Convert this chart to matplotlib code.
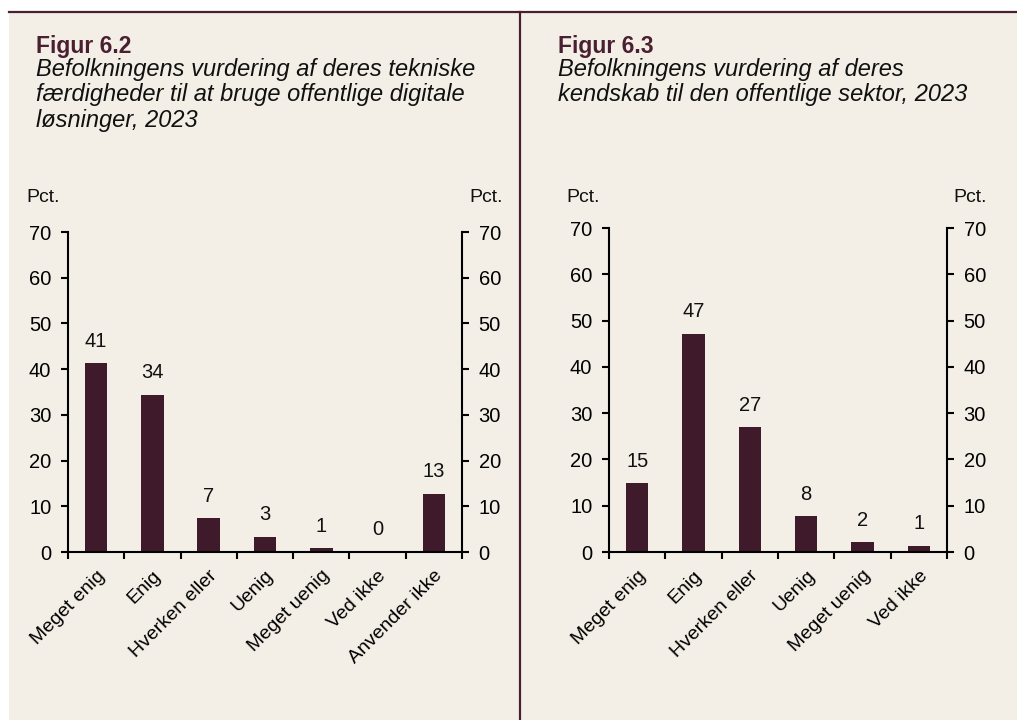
import matplotlib.pyplot as plt
from matplotlib.patches import Rectangle
from matplotlib.lines import Line2D

# Data
kat_62 = ["Meget enig", "Enig", "Hverken eller", "Uenig", "Meget uenig", "Ved ikke", "Anvender ikke"]
val_62 = [41.3, 34.4, 7.4, 3.3, 0.8, 0.1, 12.7]
lab_62 = ["41", "34", "7", "3", "1", "0", "13"]

kat_63 = ["Meget enig", "Enig", "Hverken eller", "Uenig", "Meget uenig", "Ved ikke"]
val_63 = [14.8, 47.2, 26.9, 7.7, 2.1, 1.3]
lab_63 = ["15", "47", "27", "8", "2", "1"]

BAR = "#3E1A2B"
MAROON = "#4A1F32"
BG = "#F3EFE6"

W, H = 1017, 720
fig = plt.figure(figsize=(W / 100, H / 100), dpi=100)
fig.patch.set_facecolor("white")
plt.rcParams["font.family"] = ["Liberation Sans", "DejaVu Sans"]

# Panel background and border lines
fig.patches.append(Rectangle((9 / W, 0), 1 - 9 / W, (H - 12) / H,
                             transform=fig.transFigure, facecolor=BG,
                             edgecolor="none", zorder=-10))
fig.lines.append(Line2D([9 / W, 1], [(H - 12) / H] * 2, transform=fig.transFigure,
                        color=MAROON, linewidth=1.6))
fig.lines.append(Line2D([520 / W] * 2, [0, (H - 12) / H], transform=fig.transFigure,
                        color=MAROON, linewidth=1.6))


def tegn(ax, kat, val, lab):
    n = len(kat)
    x = list(range(n))
    ax.set_facecolor("none")
    ax.bar(x, val, width=0.4, color=BAR, edgecolor="none")
    for xi, v, t in zip(x, val, lab):
        ax.annotate(t, (xi, v), xytext=(0, 9), textcoords="offset points",
                    ha="center", va="bottom", fontsize=14.5, color="#111111")
    ax.set_xlim(-0.5, n - 0.5)
    ax.set_ylim(0, 70)
    ax.set_yticks(range(0, 71, 10))
    ax.set_xticks([i - 0.5 for i in range(n + 1)])
    ax.set_xticklabels([])
    ax.set_xticks(x, minor=True)
    ax.set_xticklabels(kat, minor=True, rotation=45, ha="right",
                       rotation_mode="anchor", fontsize=14)
    ax.tick_params(axis="x", which="minor", length=0, pad=11)
    ax.tick_params(axis="x", which="major", length=5, width=1.5, direction="out")
    ax.tick_params(axis="y", length=5, width=1.5, direction="out",
                   left=True, right=True, labelleft=True, labelright=True,
                   labelsize=14.5, pad=7)
    ax.spines["top"].set_visible(False)
    for s in ["left", "right", "bottom"]:
        ax.spines[s].set_linewidth(1.5)
        ax.spines[s].set_color("black")


ax1 = fig.add_axes([68 / W, (H - 552) / H, 394 / W, 320 / H])
tegn(ax1, kat_62, val_62, lab_62)
ax2 = fig.add_axes([609 / W, (H - 552) / H, 338 / W, 324 / H])
tegn(ax2, kat_63, val_63, lab_63)

# Titles
fig.text(36 / W, 1 - 47 / H, "Figur 6.2", fontsize=16.5, fontweight="bold",
         color=MAROON, va="center")
fig.text(36 / W, 1 - 58 / H,
         "Befolkningens vurdering af deres tekniske\nfærdigheder til at bruge offentlige digitale\nløsninger, 2023",
         fontsize=17, style="italic", color="#111111", va="top", linespacing=1.13)
fig.text(558 / W, 1 - 47 / H, "Figur 6.3", fontsize=16.5, fontweight="bold",
         color=MAROON, va="center")
fig.text(558 / W, 1 - 58 / H,
         "Befolkningens vurdering af deres\nkendskab til den offentlige sektor, 2023",
         fontsize=17, style="italic", color="#111111", va="top", linespacing=1.13)

# Pct labels
for xp in [26, 469, 566, 953]:
    fig.text(xp / W, 1 - 197 / H, "Pct.", fontsize=14, color="#111111", va="center")

fig.savefig("out.png", dpi=100, facecolor=fig.get_facecolor())
